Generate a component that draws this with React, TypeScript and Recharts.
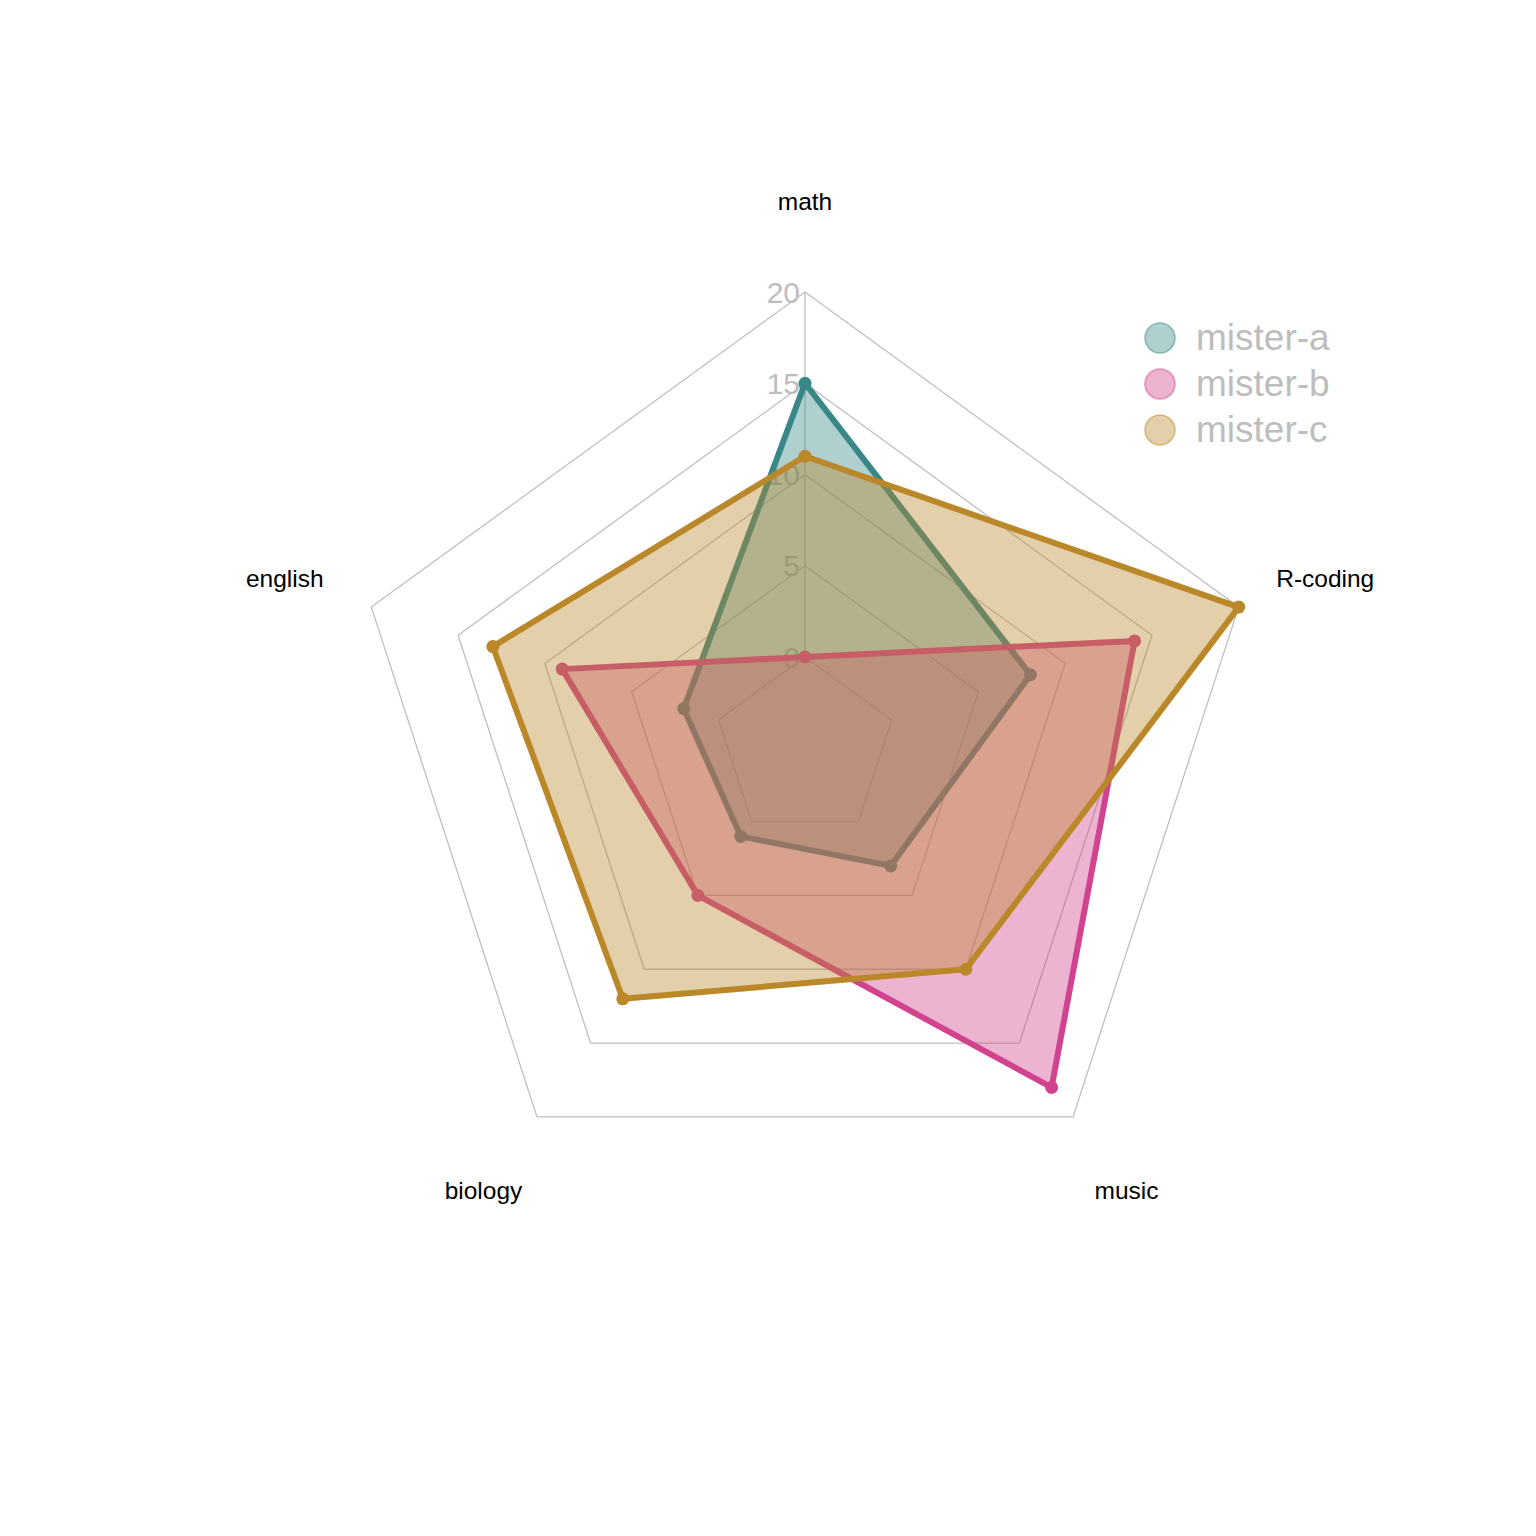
import React from "react";
import {
  RadarChart,
  Radar,
  PolarGrid,
  PolarAngleAxis,
  PolarRadiusAxis,
  Legend,
} from "recharts";

const subjects = ["math", "R-coding", "music", "biology", "english"];
const misterA = [15, 8, 3, 1, 2];
const misterB = [0, 14, 18, 5, 9];
const misterC = [11, 20, 10, 12, 13];
const radiusTicks = [0, 5, 10, 15, 20];

const series = [
  { key: "mister-a", color: "#398787" },
  { key: "mister-b", color: "#d1438f" },
  { key: "mister-c", color: "#ba8829" },
];

const data = subjects.map((s, i) => ({
  subject: s,
  "mister-a": misterA[i],
  "mister-b": misterB[i],
  "mister-c": misterC[i],
}));

const FONT = '"Liberation Sans", Arial, sans-serif';

const AngleTick = (props: any) => {
  const { x, y, payload } = props;
  return (
    <text
      x={x}
      y={y}
      textAnchor="middle"
      dominantBaseline="central"
      fontSize={24.5}
      fontFamily={FONT}
      fill="#000"
    >
      {payload.value}
    </text>
  );
};

const RadiusTick = (props: any) => {
  const { x, y, payload } = props;
  return (
    <text
      x={x - 5}
      y={y}
      textAnchor="end"
      dominantBaseline="central"
      fontSize={30}
      fontFamily={FONT}
      fill="#bdbdbd"
    >
      {payload.value}
    </text>
  );
};

// polygon + its dots in one group so each series stacks as a whole
const RadarShape = (props: any) => {
  const { points, color } = props;
  if (!points || !points.length) return null;
  const d =
    points.map((p: any, i: number) => `${i ? "L" : "M"}${p.x},${p.y}`).join("") + "Z";
  return (
    <g>
      <path
        d={d}
        fill={color}
        fillOpacity={0.4}
        stroke={color}
        strokeWidth={6}
        strokeLinejoin="round"
      />
      {points.map((p: any, i: number) => (
        <circle key={i} cx={p.x} cy={p.y} r={6.5} fill={color} />
      ))}
    </g>
  );
};

const renderLegend = () => (
  <div style={{ fontFamily: FONT }}>
    {series.map((s) => (
      <div
        key={s.key}
        style={{ display: "flex", alignItems: "center", height: 46 }}
      >
        <svg width={32} height={32} style={{ marginRight: 20 }}>
          <circle
            cx={16}
            cy={16}
            r={15}
            fill={s.color}
            fillOpacity={0.4}
            stroke={s.color}
            strokeOpacity={0.5}
            strokeWidth={1.5}
          />
        </svg>
        <span style={{ fontSize: 37, color: "#bdbdbd" }}>{s.key}</span>
      </div>
    ))}
  </div>
);

export default function App() {
  return (
    <div style={{ position: "absolute", left: 0, top: 0, background: "#fff" }}>
      <RadarChart
        width={1536}
        height={1536}
        data={data}
        cx={805}
        cy={748}
        innerRadius={91}
        outerRadius={456}
        margin={{ top: 0, right: 0, bottom: 0, left: 0 }}
      >
        <PolarGrid
          gridType="polygon"
          radialLines={false}
          stroke="#bfbfbf"
          strokeWidth={1.3}
        />
        <PolarAngleAxis
          dataKey="subject"
          tick={AngleTick}
          tickLine={false}
          axisLine={false}
          tickSize={91}
        />
        <PolarRadiusAxis
          angle={90}
          domain={[0, 20]}
          ticks={radiusTicks as any}
          tickCount={5}
          tick={RadiusTick}
          axisLine={{ stroke: "#bfbfbf", strokeWidth: 1.3 }}
          tickLine={false}
        />
        {series.map((s, i) => (
          <Radar
            key={s.key}
            name={s.key}
            dataKey={s.key}
            stroke={s.color}
            fill={s.color}
            fillOpacity={0.4}
            dot={false}
            shape={(p: any) => <RadarShape {...p} color={s.color} />}
            zIndex={600 + i}
            isAnimationActive={false}
          />
        ))}
        <Legend
          content={renderLegend}
          wrapperStyle={{ position: "absolute", left: 1144, top: 315, width: 260 }}
        />
      </RadarChart>
    </div>
  );
}
